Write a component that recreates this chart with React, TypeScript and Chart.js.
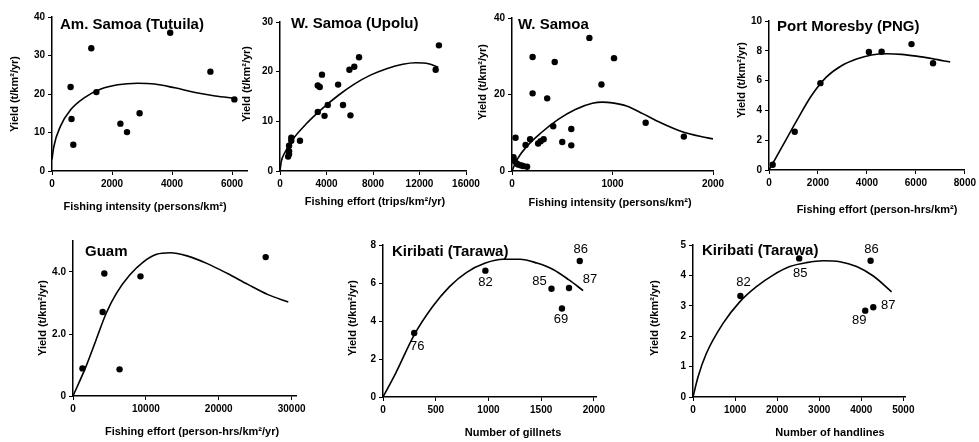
import React, { useEffect, useRef } from 'react';
import { Chart, registerables } from 'chart.js';

Chart.register(...registerables);

// ---------------- DATA ----------------
// Am. Samoa (Tutuila): fishing intensity (persons/km2) vs yield (t/km2/yr)
const amSamoaPoints: number[][] = [
  [620, 21.8], [650, 13.5], [710, 6.8], [1310, 31.9], [1480, 20.5], [2280, 12.3],
  [2500, 10.1], [2920, 15.0], [3940, 35.9], [5280, 25.8], [6080, 18.6],
];
const amSamoaCurve: number[][] = [
  [0, 3], [60, 6.3], [280, 11.6], [620, 15.9], [1070, 19.0], [1630, 21.3], [2190, 22.4],
  [2860, 22.8], [3420, 22.6], [4090, 21.6], [4770, 20.4], [5440, 19.5], [6080, 18.9],
];
const amSamoaXTicks = [0, 2000, 4000, 6000];
const amSamoaYTicks = [0, 10, 20, 30, 40];

// W. Samoa (Upolu): fishing effort (trips/km2/yr)
const upoluPoints: number[][] = [
  [700, 2.9], [780, 3.4], [780, 4.0], [780, 5.1], [970, 6.1], [970, 6.7], [1720, 6.1],
  [3250, 11.9], [3250, 17.2], [3420, 16.9], [3610, 19.4], [3830, 11.1], [4110, 13.3],
  [5000, 17.4], [5420, 13.3], [5970, 20.4], [6060, 11.2], [6390, 21.0], [6800, 22.9],
  [13390, 20.4], [13670, 25.3],
];
const upoluCurve: number[][] = [
  [0, 0], [100, 1.8], [420, 3.7], [1110, 6.4], [2220, 9.4], [3610, 12.5], [5000, 15.2],
  [6390, 17.5], [7780, 19.3], [9170, 20.6], [10560, 21.5], [11670, 21.8], [12780, 21.6],
  [13610, 20.9],
];
const upoluXTicks = [0, 4000, 8000, 12000, 16000];
const upoluYTicks = [0, 10, 20, 30];

// W. Samoa: fishing intensity (persons/km2)
const wSamoaPoints: number[][] = [
  [15, 3.6], [25, 2.6], [35, 8.7], [45, 2.0], [60, 1.7], [85, 1.5], [110, 1.3], [150, 1.1],
  [135, 6.8], [180, 8.3], [205, 20.3], [205, 29.8], [260, 7.2], [285, 7.8], [315, 8.3],
  [350, 19.0], [410, 11.7], [425, 28.5], [500, 7.6], [590, 11.0], [590, 6.7], [770, 34.8],
  [890, 22.6], [1015, 29.5], [1330, 12.6], [1710, 9.0],
];
const wSamoaCurve: number[][] = [
  [0, 0], [50, 3], [150, 6.5], [290, 10], [460, 13.5], [630, 16.1], [800, 17.7], [900, 18.0],
  [1000, 17.8], [1140, 17.0], [1300, 15.0], [1480, 12.6], [1680, 10.4], [1880, 9.0], [2000, 8.4],
];
const wSamoaXTicks = [0, 1000, 2000];
const wSamoaYTicks = [0, 20, 40];

// Port Moresby (PNG): fishing effort (person-hrs/km2)
const pngPoints: number[][] = [
  [150, 0.35], [1050, 2.57], [2100, 5.83], [4080, 7.92], [4600, 7.94], [5820, 8.45], [6700, 7.16],
];
const pngCurve: number[][] = [
  [0, 0], [514, 1.5], [1126, 3.3], [1738, 5.0], [2350, 6.25], [2962, 7.0], [3574, 7.45],
  [4186, 7.72], [4798, 7.8], [5410, 7.76], [6022, 7.64], [6700, 7.46], [7400, 7.25],
];
const pngXTicks = [0, 2000, 4000, 6000, 8000];
const pngYTicks = [0, 2, 4, 6, 8, 10];

// Guam: fishing effort (person-hrs/km2/yr)
const guamPoints: number[][] = [
  [1300, 0.89], [4070, 2.71], [4300, 3.95], [6390, 0.86], [9260, 3.86], [26440, 4.48],
];
const guamCurve: number[][] = [
  [0, 0], [1760, 0.94], [3150, 1.8], [4540, 2.66], [5930, 3.3], [7780, 3.9], [9630, 4.32],
  [11480, 4.57], [13330, 4.62], [15650, 4.52], [18430, 4.27], [21200, 3.95], [24000, 3.6],
  [26760, 3.27], [29540, 3.03],
];
const guamXTicks = [0, 10000, 20000, 30000];
const guamYTicks = [0, 2, 4];

// Kiribati (Tarawa): number of gillnets
const gillnetPoints: number[][] = [
  [296, 3.37], [971, 6.65], [1598, 5.7], [1697, 4.66], [1764, 5.74], [1866, 7.16],
];
const gillnetYears = ['76', '82', '85', '69', '87', '86'];
const gillnetCurve: number[][] = [
  [0, 0], [121, 1.26], [296, 3.27], [471, 4.76], [631, 5.81], [790, 6.55], [971, 7.05],
  [1140, 7.25], [1299, 7.25], [1459, 7.05], [1618, 6.7], [1764, 6.16], [1898, 5.6],
];
const gillnetXTicks = [0, 500, 1000, 1500, 2000];
const gillnetYTicks = [0, 2, 4, 6, 8];

// Kiribati (Tarawa): number of handlines
const handlinePoints: number[][] = [
  [1127, 3.32], [2524, 4.56], [4222, 4.48], [4095, 2.84], [4286, 2.95],
];
const handlineYears = ['82', '85', '86', '89', '87'];
const handlineCurve: number[][] = [
  [0, 0], [119, 0.66], [317, 1.43], [714, 2.42], [1111, 3.13], [1508, 3.63], [1905, 4.01],
  [2302, 4.29], [2698, 4.42], [3095, 4.48], [3492, 4.45], [3889, 4.29], [4286, 3.98],
  [4722, 3.46],
];
const handlineXTicks = [0, 1000, 2000, 3000, 4000, 5000];
const handlineYTicks = [0, 1, 2, 3, 4, 5];

const Y_TITLE = 'Yield (t/km\u00B2/yr)';

// ---------------- LAYOUT ----------------
const FONT = "'Liberation Sans', Arial, sans-serif";

type PanelCfg = {
  box: { left: number; top: number; width: number; height: number };
  plot: { l: number; t: number; r: number; b: number };
  xMin: number; xMax: number; yMin: number; yMax: number;
  xTicks: number[]; yTicks: number[];
  yFmt?: (v: number) => string;
  title: string; titlePos: [number, number];
  xTitle: string; xTitlePos: [number, number];
  yTitlePos: [number, number];
  points: number[][]; curve: number[][];
  labels?: string[]; labelOffsets?: [number, number][];
};

const panels: PanelCfg[] = [
  {
    box: { left: 0, top: 0, width: 262, height: 218 },
    plot: { l: 52, t: 17, r: 247, b: 171 },
    xMin: 0, xMax: 6500, yMin: 0, yMax: 40, xTicks: amSamoaXTicks, yTicks: amSamoaYTicks,
    title: 'Am. Samoa (Tutuila)', titlePos: [60, 17],
    xTitle: 'Fishing intensity (persons/km\u00B2)', xTitlePos: [145, 207], yTitlePos: [15, 94],
    points: amSamoaPoints, curve: amSamoaCurve,
  },
  {
    box: { left: 240, top: 0, width: 250, height: 218 },
    plot: { l: 280, t: 22, r: 466, b: 171 },
    xMin: 0, xMax: 16000, yMin: 0, yMax: 30, xTicks: upoluXTicks, yTicks: upoluYTicks,
    title: 'W. Samoa (Upolu)', titlePos: [291, 16],
    xTitle: 'Fishing effort (trips/km\u00B2/yr)', xTitlePos: [375, 202], yTitlePos: [247, 84],
    points: upoluPoints, curve: upoluCurve,
  },
  {
    box: { left: 470, top: 0, width: 262, height: 218 },
    plot: { l: 512, t: 18, r: 713, b: 171 },
    xMin: 0, xMax: 2000, yMin: 0, yMax: 40, xTicks: wSamoaXTicks, yTicks: wSamoaYTicks,
    title: 'W. Samoa', titlePos: [518, 17],
    xTitle: 'Fishing intensity (persons/km\u00B2)', xTitlePos: [610, 203], yTitlePos: [483, 82],
    points: wSamoaPoints, curve: wSamoaCurve,
  },
  {
    box: { left: 735, top: 0, width: 244, height: 218 },
    plot: { l: 769, t: 21, r: 966, b: 170 },
    xMin: 0, xMax: 8000, yMin: 0, yMax: 10, xTicks: pngXTicks, yTicks: pngYTicks,
    title: 'Port Moresby (PNG)', titlePos: [777, 19],
    xTitle: 'Fishing effort (person-hrs/km\u00B2)', xTitlePos: [877, 210], yTitlePos: [742, 80],
    points: pngPoints, curve: pngCurve,
  },
  {
    box: { left: 0, top: 225, width: 320, height: 217 },
    plot: { l: 73, t: 241, r: 296, b: 396 },
    xMin: 0, xMax: 30600, yMin: 0, yMax: 5, xTicks: guamXTicks, yTicks: guamYTicks,
    yFmt: (v: number) => (v === 0 ? '0' : v.toFixed(1)),
    title: 'Guam', titlePos: [85, 244],
    xTitle: 'Fishing effort (person-hrs/km\u00B2/yr)', xTitlePos: [192, 432], yTitlePos: [43, 318],
    points: guamPoints, curve: guamCurve,
  },
  {
    box: { left: 320, top: 225, width: 320, height: 217 },
    plot: { l: 383, t: 245, r: 596, b: 397 },
    xMin: 0, xMax: 2020, yMin: 0, yMax: 8, xTicks: gillnetXTicks, yTicks: gillnetYTicks,
    title: 'Kiribati (Tarawa)', titlePos: [392, 244],
    xTitle: 'Number of gillnets', xTitlePos: [513, 433], yTitlePos: [353, 318],
    points: gillnetPoints, curve: gillnetCurve,
    labels: gillnetYears,
    labelOffsets: [[3, 13], [0, 12], [-12, -7], [-1, 11], [21, -9], [1, -12]],
  },
  {
    box: { left: 640, top: 225, width: 339, height: 217 },
    plot: { l: 693, t: 245, r: 905, b: 397 },
    xMin: 0, xMax: 5040, yMin: 0, yMax: 5, xTicks: handlineXTicks, yTicks: handlineYTicks,
    title: 'Kiribati (Tarawa)', titlePos: [702, 243],
    xTitle: 'Number of handlines', xTitlePos: [830, 433], yTitlePos: [655, 318],
    points: handlinePoints, curve: handlineCurve,
    labels: handlineYears,
    labelOffsets: [[3, -14], [1, 15], [1, -11], [-6, 10], [15, -2]],
  },
];

function Panel({ cfg }: { cfg: PanelCfg }) {
  const ref = useRef<HTMLCanvasElement | null>(null);

  useEffect(() => {
    const canvas = ref.current;
    if (!canvas) return;
    const { box, plot } = cfg;
    const yAxisW = plot.l - box.left;
    const xAxisH = box.top + box.height - plot.b;

    const textPlugin = {
      id: 'panelText',
      afterDraw(chart: any) {
        const ctx = chart.ctx as CanvasRenderingContext2D;
        ctx.save();
        ctx.fillStyle = '#000';
        ctx.font = `bold 15px ${FONT}`;
        ctx.textAlign = 'left';
        ctx.textBaseline = 'top';
        ctx.fillText(cfg.title, cfg.titlePos[0] - box.left, cfg.titlePos[1] - box.top);

        ctx.font = `bold 11px ${FONT}`;
        ctx.textAlign = 'center';
        ctx.textBaseline = 'middle';
        ctx.fillText(cfg.xTitle, cfg.xTitlePos[0] - box.left, cfg.xTitlePos[1] - box.top);

        ctx.save();
        ctx.translate(cfg.yTitlePos[0] - box.left, cfg.yTitlePos[1] - box.top);
        ctx.rotate(-Math.PI / 2);
        ctx.fillText(Y_TITLE, 0, 0);
        ctx.restore();

        if (cfg.labels && cfg.labelOffsets) {
          const meta = chart.getDatasetMeta(1);
          ctx.font = `13px ${FONT}`;
          meta.data.forEach((el: any, i: number) => {
            const off = cfg.labelOffsets![i] || [0, 0];
            ctx.fillText(cfg.labels![i], el.x + off[0], el.y + off[1]);
          });
        }
        ctx.restore();
      },
    };

    const tickFont = { family: FONT, size: 10, weight: 'bold' as const };
    const commonGrid = {
      display: true,
      drawOnChartArea: false,
      drawTicks: true,
      tickLength: 4,
      color: '#000',
      lineWidth: 1,
    };

    const chart = new Chart(canvas, {
      type: 'scatter',
      data: {
        datasets: [
          {
            data: cfg.curve.map(([x, y]) => ({ x, y })),
            showLine: true,
            borderColor: '#000',
            borderWidth: 1.6,
            pointRadius: 0,
            cubicInterpolationMode: 'monotone',
            fill: false,
          } as any,
          {
            data: cfg.points.map(([x, y]) => ({ x, y })),
            showLine: false,
            pointRadius: 3.2,
            pointBackgroundColor: '#000',
            pointBorderColor: '#000',
            pointBorderWidth: 0,
          } as any,
        ],
      },
      options: {
        animation: false,
        responsive: false,
        devicePixelRatio: 1,
        layout: {
          padding: {
            left: 0,
            top: plot.t - box.top,
            right: box.left + box.width - plot.r,
            bottom: 0,
          },
        },
        plugins: {
          legend: { display: false },
          tooltip: { enabled: false },
          title: { display: false },
        },
        scales: {
          x: {
            type: 'linear',
            position: 'bottom',
            min: cfg.xMin,
            max: cfg.xMax,
            afterBuildTicks: (s: any) => {
              s.ticks = cfg.xTicks.map((v) => ({ value: v }));
            },
            afterFit: (s: any) => {
              s.height = xAxisH;
            },
            border: { display: true, color: '#000', width: 1.5 },
            grid: commonGrid,
            ticks: {
              color: '#000',
              font: tickFont,
              padding: 3,
              maxRotation: 0,
              autoSkip: false,
              callback: (v: any) => String(v),
            },
          },
          y: {
            type: 'linear',
            position: 'left',
            min: cfg.yMin,
            max: cfg.yMax,
            afterBuildTicks: (s: any) => {
              s.ticks = cfg.yTicks.map((v) => ({ value: v }));
            },
            afterFit: (s: any) => {
              s.width = yAxisW;
            },
            border: { display: true, color: '#000', width: 1.5 },
            grid: commonGrid,
            ticks: {
              color: '#000',
              font: tickFont,
              padding: 3,
              autoSkip: false,
              callback: (v: any) => (cfg.yFmt ? cfg.yFmt(Number(v)) : String(v)),
            },
          },
        },
      } as any,
      plugins: [textPlugin],
    });

    return () => {
      chart.destroy();
    };
  }, [cfg]);

  return (
    <canvas
      ref={ref}
      width={cfg.box.width}
      height={cfg.box.height}
      style={{
        position: 'absolute',
        left: cfg.box.left,
        top: cfg.box.top,
        width: cfg.box.width,
        height: cfg.box.height,
      }}
    />
  );
}

export default function App() {
  return (
    <div
      style={{
        position: 'absolute',
        left: 0,
        top: 0,
        width: 979,
        height: 442,
        background: '#fff',
        overflow: 'hidden',
      }}
    >
      {panels.map((p, i) => (
        <Panel key={i} cfg={p} />
      ))}
    </div>
  );
}
